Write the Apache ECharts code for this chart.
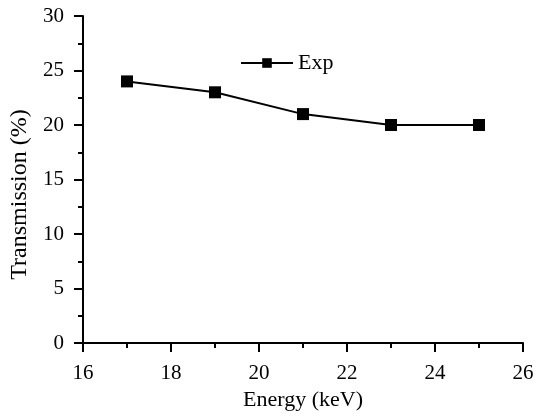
<!DOCTYPE html>
<html><head><meta charset="utf-8">
<script src="https://cdn.jsdelivr.net/npm/echarts@6/dist/echarts.min.js"></script>
<style>html,body{margin:0;padding:0;background:#fff}#c{width:542px;height:417px}</style>
</head><body><div id="c"></div>
<script>
const energy = [17, 19, 21, 23, 25];
const transmission = [24, 23, 21, 20, 20];
const seriesName = 'Exp';
const xTitle = 'Energy (keV)';
const yTitle = 'Transmission (%)';
const font = 'Liberation Serif';
const chart = echarts.init(document.getElementById('c'));
chart.setOption({
  animation: false,
  backgroundColor: '#fff',
  grid: {left: 83, right: 19, top: 16, bottom: 74},
  legend: {
    data: [seriesName], left: 235, top: 47, itemWidth: 52, itemHeight: 12, itemGap: 4,
    textStyle: {fontFamily: font, fontSize: 22, color: '#000'}
  },
  xAxis: {
    type: 'value', min: 16, max: 26, interval: 2,
    name: xTitle, nameLocation: 'middle', nameGap: 45,
    nameTextStyle: {fontFamily: font, fontSize: 22, color: '#000'},
    axisLine: {lineStyle: {color: '#000', width: 2}},
    axisTick: {show: true, length: 9, lineStyle: {color: '#000', width: 2}},
    minorTick: {show: true, splitNumber: 2, length: 5, lineStyle: {color: '#000', width: 2}},
    splitLine: {show: false},
    axisLabel: {fontFamily: font, fontSize: 21, color: '#000', margin: 20}
  },
  yAxis: {
    type: 'value', min: 0, max: 30, interval: 5,
    name: yTitle, nameLocation: 'middle', nameGap: 41,
    nameTextStyle: {fontFamily: font, fontSize: 24, color: '#000', padding: [0, 30, 0, 0]},
    axisLine: {show: true, lineStyle: {color: '#000', width: 2}},
    axisTick: {show: true, length: 9, lineStyle: {color: '#000', width: 2}},
    minorTick: {show: true, splitNumber: 2, length: 5, lineStyle: {color: '#000', width: 2}},
    splitLine: {show: false},
    axisLabel: {fontFamily: font, fontSize: 21, color: '#000', margin: 19}
  },
  series: [{
    name: seriesName, type: 'line',
    data: energy.map((e, i) => [e, transmission[i]]),
    symbol: 'rect', symbolSize: 12,
    itemStyle: {color: '#000'},
    lineStyle: {color: '#000', width: 2}
  }]
});
</script></body></html>
